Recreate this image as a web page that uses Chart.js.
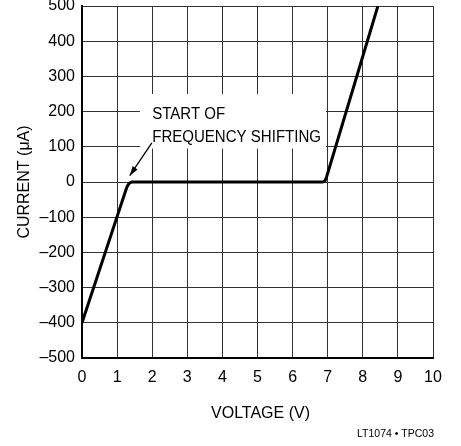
<!DOCTYPE html>
<html>
<head>
<meta charset="utf-8">
<script src="https://cdn.jsdelivr.net/npm/chart.js@4"></script>
<style>
  html, body { margin: 0; padding: 0; background: #fff; }
  #wrap { width: 461px; height: 446px; }
</style>
</head>
<body>
<div id="wrap"><canvas id="iv-chart" width="461" height="446"></canvas></div>
<script>
// values
const voltage = [0, 1.22, 1.28, 1.34, 1.42, 6.86, 6.92, 6.97, 8.43];
const current = [-400, -32, -14, -4, 0, 0, 3, 15, 500];

const xTicks = [0, 1, 2, 3, 4, 5, 6, 7, 8, 9, 10];
const yTicks = [-500, -400, -300, -200, -100, 0, 100, 200, 300, 400, 500];

const noteLines = ["START OF", "FREQUENCY SHIFTING"];
const xTitle = "VOLTAGE (V)";
const yTitle = "CURRENT (μA)";
const footNote = "LT1074 • TPC03";

const FONT = "'Liberation Sans', Arial, sans-serif";

const points = voltage.map((v, i) => ({ x: v, y: current[i] }));

// text squeezed a bit to look like the condensed face of the original
function narrowText(ctx, txt, x, y, sx) {
  ctx.save();
  ctx.translate(x, y);
  ctx.scale(sx, 1);
  ctx.fillText(txt, 0, 0);
  ctx.restore();
}

const notePlugin = {
  id: 'note',
  afterDraw(chart) {
    const ctx = chart.ctx;
    const xs = chart.scales.x, ys = chart.scales.y;
    const X = v => xs.getPixelForValue(v), Y = v => ys.getPixelForValue(v);
    ctx.save();
    // white box hiding the grid behind the label
    ctx.fillStyle = '#fff';
    ctx.fillRect(X(1.65), Y(250), X(6.95) - X(1.65), Y(95) - Y(250));
    ctx.fillStyle = '#000';
    ctx.font = '16px ' + FONT;
    ctx.textAlign = 'left';
    ctx.textBaseline = 'alphabetic';
    narrowText(ctx, noteLines[0], X(2.0), Y(179), 0.94);
    narrowText(ctx, noteLines[1], X(2.0), Y(114), 0.94);
    // arrow
    const x0 = X(1.99), y0 = Y(111), x1 = X(1.36), y1 = Y(18);
    ctx.strokeStyle = '#000';
    ctx.lineWidth = 1.3;
    ctx.beginPath();
    ctx.moveTo(x0, y0);
    ctx.lineTo(x1, y1);
    ctx.stroke();
    const a = Math.atan2(y1 - y0, x1 - x0);
    ctx.beginPath();
    ctx.moveTo(x1, y1);
    ctx.lineTo(x1 - 10 * Math.cos(a - 0.3), y1 - 10 * Math.sin(a - 0.3));
    ctx.lineTo(x1 - 10 * Math.cos(a + 0.3), y1 - 10 * Math.sin(a + 0.3));
    ctx.closePath();
    ctx.fill();
    // axis titles
    const ca = chart.chartArea;
    ctx.font = '16px ' + FONT;
    ctx.textAlign = 'center';
    ctx.textBaseline = 'middle';
    ctx.fillText(xTitle, (ca.left + ca.right) / 2 + 3, 414);
    ctx.save();
    ctx.translate(25, (ca.top + ca.bottom) / 2);
    ctx.rotate(-Math.PI / 2);
    ctx.fillText(yTitle, 0, 0);
    ctx.restore();
    ctx.font = '10.5px ' + FONT;
    ctx.textAlign = 'right';
    ctx.fillText(footNote, 434, 434);
    ctx.restore();
  }
};

new Chart(document.getElementById("iv-chart"), {
  type: 'line',
  data: {
    datasets: [
      {
        label: "Current",
        data: points,
        borderColor: "#000",
        borderWidth: 3,
        pointRadius: 0,
        tension: 0,
        fill: false
      }
    ]
  },
  options: {
    responsive: false,
    animation: false,
    layout: {
      padding: { top: 6, right: 28, left: 0, bottom: 0 }
    },
    plugins: {
      legend: { display: false },
      tooltip: { enabled: false }
    },
    scales: {
      x: {
        type: 'linear',
        min: 0,
        max: 10,
        afterBuildTicks: s => { s.ticks = xTicks.map(v => ({ value: v })); },
        afterFit: s => { s.height = 88; s.paddingLeft = 0; s.paddingRight = 0; },
        grid: { color: '#333', lineWidth: 1, drawTicks: false },
        border: { color: '#000', width: 2 },
        ticks: {
          color: '#000',
          padding: 10,
          maxRotation: 0,
          font: { family: FONT, size: 16 }
        }
      },
      y: {
        type: 'linear',
        min: -500,
        max: 500,
        afterBuildTicks: s => { s.ticks = yTicks.map(v => ({ value: v })); },
        afterFit: s => { s.width = 82; s.paddingTop = 0; s.paddingBottom = 0; },
        grid: { color: '#333', lineWidth: 1, drawTicks: false },
        border: { color: '#000', width: 2 },
        ticks: {
          color: '#000',
          padding: 7,
          font: { family: FONT, size: 16 },
          callback: v => String(v).replace('-', '\u2013')
        }
      }
    }
  },
  plugins: [notePlugin]
});
</script>
</body>
</html>
